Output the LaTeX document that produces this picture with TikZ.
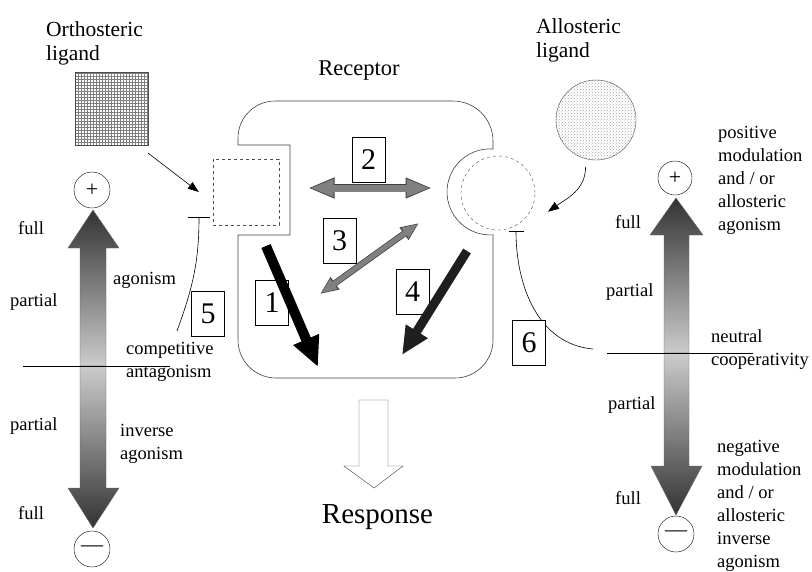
\documentclass[tikz,border=0pt]{standalone}
\usepackage{fontspec}
\setmainfont{Liberation Serif}
\usetikzlibrary{arrows.meta,patterns}

\begin{document}
\begin{tikzpicture}[x=1pt,y=1pt,>={Triangle[length=11pt,width=8pt]},
  txt/.style={inner sep=0pt,font=\fontsize{18.5}{23}\selectfont},
  bigtxt/.style={inner sep=0pt,font=\fontsize{21.5}{24}\selectfont},
  numbox/.style={draw,fill=white,minimum width=33pt,minimum height=45pt,inner sep=0pt,font=\fontsize{30}{30}\selectfont},
  sign/.style={draw,circle,minimum size=36pt,inner sep=0pt,font=\fontsize{22}{22}\selectfont},
  scaleup/.style={draw=black!60,top color=black!80,bottom color=black!20},
  scaledown/.style={draw=black!60,top color=black!20,bottom color=black!80}]
\useasboundingbox (0,0) rectangle (812,-571);
% ligands
\node[bigtxt,align=left,anchor=west] (orthotxt) at (46,-43) {Orthosteric\\ligand};
\node[draw=black!70,pattern=grid,pattern color=black!50,minimum size=73pt,inner sep=0pt] (ortho) at (111.5,-108.5) {};
\node[bigtxt,align=left,anchor=west] (allotxt) at (536,-40) {Allosteric\\ligand};
\node[draw=black!70,circle,pattern=crosshatch dots,pattern color=black!35,minimum size=80pt,inner sep=0pt] (allo) at (596,-120) {};
% receptor
\node[inner sep=0pt,font=\fontsize{22.5}{22.5}\selectfont] (receptor) at (359,-71) {Receptor};
\draw[black!75,semithick] (238,-145) -- (238,-138) arc[start angle=180,end angle=90,radius=37] -- (453,-101)
  arc[start angle=90,end angle=0,radius=40] -- (493,-149) arc[start angle=86,end angle=274,radius=43]
  -- (493,-340) arc[start angle=0,end angle=-90,radius=38] -- (276,-378) arc[start angle=270,end angle=180,radius=38]
  -- (238,-235) -- (290,-235) -- (290,-145) -- cycle;
\node[draw=black!70,dashed,minimum size=66pt,inner sep=0pt] (orthosite) at (246,-192) {};
\node[draw=black!70,dashed,circle,minimum size=74pt,inner sep=0pt] (allosite) at (498,-193) {};
% binding
\draw[->,semithick] ([yshift=-8pt]ortho.south east) -- ([xshift=-14pt]orthosite.west);
\draw[->,semithick] ([yshift=-8pt]allo.255) to[out=-90,in=35] ([shift={(15pt,-6pt)}]allosite.-20);
\coordinate (t5top) at (199,-217);
\coordinate (t5end) at (177,-331);
\draw[semithick,{Bar[width=22pt]}-] (t5top) to[out=-90,in=70] (t5end);
\coordinate (t6top) at (516,-231);
\coordinate (t6end) at (593,-349);
\draw[semithick,{Bar[width=15pt]}-] (t6top) to[out=-90,in=175] (t6end);
% numbered boxes
\node[numbox] (n1) at (272,-302.5) {1};
\node[numbox] (n2) at (368.5,-160) {2};
\node[numbox] (n3) at (339.5,-240.5) {3};
\node[numbox] (n4) at (412.5,-292) {4};
\node[numbox] (n5) at (208,-313.5) {5};
\node[numbox] (n6) at (529,-343) {6};
% signalling arrows
\coordinate (a1s) at (266,-246);
\coordinate (a1e) at (318,-367);
\draw[line width=10pt,-{Triangle[length=30pt,width=26pt]}] (a1s) -- (a1e);
\coordinate (a2s) at (308,-188);
\coordinate (a2e) at (432,-188);
\draw[line width=8.6pt,black!75,{Triangle[length=26.5pt,width=19pt]}-{Triangle[length=26.5pt,width=19pt]}] (a2s) -- (a2e);
\draw[line width=7pt,black!50,shorten <=1.5pt,shorten >=1.5pt,{Triangle[length=24pt,width=16pt]}-{Triangle[length=24pt,width=16pt]}] (a2s) -- (a2e);
\coordinate (a3s) at (320,-294);
\coordinate (a3e) at (419,-223);
\draw[line width=6.4pt,black!75,{Triangle[length=18.5pt,width=14pt]}-{Triangle[length=18.5pt,width=14pt]}] (a3s) -- (a3e);
\draw[line width=5pt,black!50,shorten <=1.3pt,shorten >=1.3pt,{Triangle[length=16pt,width=11.5pt]}-{Triangle[length=16pt,width=11.5pt]}] (a3s) -- (a3e);
\coordinate (a4s) at (467,-251);
\coordinate (a4e) at (402,-355);
\draw[line width=9pt,black!88,-{Triangle[length=28pt,width=24pt]}] (a4s) -- (a4e);
% response
\draw[black!75] (359,-400) -- (388,-400) -- (388,-466) -- (403,-466) -- (374,-488) -- (344,-466) -- (359,-466) -- cycle;
\node[inner sep=0pt,font=\fontsize{29}{29}\selectfont] (response) at (377.5,-517) {Response};
% orthosteric scale
\shade[scaleup] (80,-366) -- (80,-248) -- (68,-248) -- (93,-210) -- (119,-248) -- (106,-248) -- (106,-366) -- cycle;
\shade[scaledown] (80,-366) -- (80,-488) -- (68,-488) -- (93,-528) -- (119,-488) -- (106,-488) -- (106,-366) -- cycle;
\draw (23,-366) -- (170,-366);
\node[sign] (lplus) at (92,-190) {+};
\node[sign] (lminus) at (92,-549) {—};
\node[txt,anchor=west] (lfull1) at (18,-228) {full};
\node[txt,anchor=west] (lpart1) at (10,-302) {partial};
\node[txt,anchor=west] (lago) at (113,-280) {agonism};
\node[txt,anchor=west,align=left] (lanta) at (126,-362) {competitive\\antagonism};
\node[txt,anchor=west] (lpart2) at (10,-426) {partial};
\node[txt,anchor=west,align=left] (linv) at (120,-444) {inverse\\agonism};
\node[txt,anchor=west] (lfull2) at (18,-513) {full};
% allosteric scale
\shade[scaleup] (664,-353) -- (664,-235) -- (650,-235) -- (676,-198) -- (703,-235) -- (689,-235) -- (689,-353) -- cycle;
\shade[scaledown] (664,-353) -- (664,-466) -- (651,-466) -- (676,-515) -- (702,-466) -- (689,-466) -- (689,-353) -- cycle;
\draw (607,-353) -- (753,-353);
\node[sign,minimum size=34pt] (rplus) at (675,-178) {+};
\node[sign] (rminus) at (676,-534) {—};
\node[txt,anchor=west,align=left] (rpos) at (718,-180) {positive\\modulation\\and / or\\allosteric\\agonism};
\node[txt,anchor=west] (rfull1) at (615,-222) {full};
\node[txt,anchor=west] (rpart1) at (606,-292) {partial};
\node[txt,anchor=west,align=left] (rneut) at (711,-350) {neutral\\cooperativity};
\node[txt,anchor=west] (rpart2) at (608,-405) {partial};
\node[txt,anchor=west] (rfull2) at (615,-498) {full};
\node[txt,anchor=west,align=left] (rneg) at (717,-506) {negative\\modulation\\and / or\\allosteric\\inverse\\agonism};
\end{tikzpicture}
\end{document}
